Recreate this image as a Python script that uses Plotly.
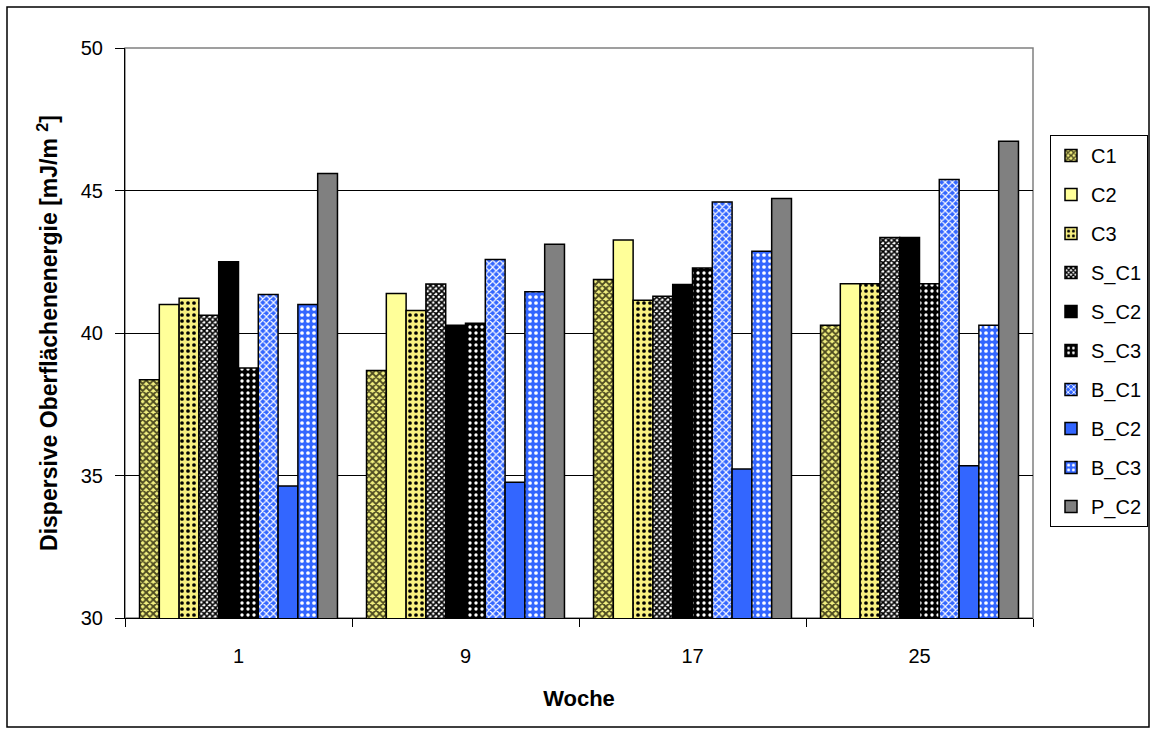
import plotly.graph_objects as go

weeks = ["1", "9", "17", "25"]
series_names = ["C1", "C2", "C3", "S_C1", "S_C2", "S_C3", "B_C1", "B_C2", "B_C3", "P_C2"]

C1 = [38.36, 38.68, 41.88, 40.27]
C2 = [41.00, 41.39, 43.26, 41.73]
C3 = [41.22, 40.79, 41.15, 41.73]
S_C1 = [40.62, 41.72, 41.29, 43.35]
S_C2 = [42.50, 40.27, 41.70, 43.35]
S_C3 = [38.77, 40.34, 42.28, 41.73]
B_C1 = [41.35, 42.58, 44.60, 45.39]
B_C2 = [34.63, 34.76, 35.23, 35.34]
B_C3 = [41.00, 41.45, 42.87, 40.27]
P_C2 = [45.60, 43.11, 44.72, 46.73]

values = [C1, C2, C3, S_C1, S_C2, S_C3, B_C1, B_C2, B_C3, P_C2]

# styling: (bgcolor, fgcolor, pattern shape, size, solidity)
styles = [
    ("#F2F080", "#4D4A20", "x", 5, 0.6),
    ("#FFFF99", None, "", 0, 0),
    ("#F8F080", "#000000", ".", 6, 0.3),
    ("#FFFFFF", "#000000", "x", 4, 0.65),
    ("#000000", None, "", 0, 0),
    ("#000000", "#FFFFFF", ".", 6, 0.25),
    ("#3366FF", "#FFFFFF", "x", 5, 0.4),
    ("#3366FF", None, "", 0, 0),
    ("#3366FF", "#FFFFFF", ".", 6, 0.3),
    ("#808080", None, "", 0, 0),
]

FONT = "Liberation Sans, Arial, sans-serif"

fig = go.Figure()
for name, vals, (bg, fg, shp, sz, sol) in zip(series_names, values, styles):
    marker = dict(color=bg, line=dict(color="#000000", width=1.5))
    if shp:
        marker["pattern"] = dict(shape=shp, bgcolor=bg, fgcolor=fg, size=sz,
                                 solidity=sol, fillmode="replace")
    fig.add_trace(go.Bar(x=weeks, y=vals, name=name, marker=marker,
                         legendgroup=name))

L, T = 125, 48
W, H = 1152, 733
PW, PH = 1033 - 125, 618 - 48

def px_x(p):
    return (p - L) / PW

def px_y(p):
    return (T + PH - p) / PH

fig.update_layout(
    width=W, height=H, autosize=False,
    margin=dict(l=L, r=W - 1033, t=T, b=H - 618, autoexpand=False),
    paper_bgcolor="white", plot_bgcolor="white",
    barmode="group", bargap=0.128, bargroupgap=0,
    font=dict(family=FONT, size=20, color="#000000"),
    showlegend=True,
    legend=dict(
        x=px_x(1050), y=px_y(135), xanchor="left", yanchor="top",
        bordercolor="#000000", borderwidth=1, bgcolor="white",
        font=dict(family=FONT, size=20, color="#000000"),
        traceorder="grouped", tracegroupgap=10,
        itemwidth=30,
    ),
    xaxis=dict(
        type="category",
        showline=True, linecolor="#000000", linewidth=1,
        ticks="outside", tickson="boundaries", ticklen=8, tickcolor="#000000",
        ticklabelstandoff=20,
        showgrid=False,
        tickfont=dict(family=FONT, size=20, color="#000000"),
        title=dict(text="<b>Woche</b>", font=dict(family=FONT, size=22, color="#000000"),
                   standoff=24),
    ),
    yaxis=dict(
        range=[30, 50], dtick=5, tick0=30,
        showline=True, linecolor="#000000", linewidth=1,
        ticks="outside", ticklen=9, tickcolor="#000000",
        ticklabelstandoff=8,
        showgrid=True, gridcolor="#000000", gridwidth=1,
        zeroline=False,
        tickfont=dict(family=FONT, size=20, color="#000000"),
        title=dict(text="<b>Dispersive Oberflächenenergie [mJ/m <sup>2</sup>]</b>",
                   font=dict(family=FONT, size=23, color="#000000"),
                   standoff=16),
    ),
    shapes=[
        dict(type="rect", xref="paper", yref="paper", x0=0, x1=1, y0=0, y1=1,
             line=dict(color="#808080", width=1.5), layer="below"),
        dict(type="rect", xref="paper", yref="paper",
             x0=px_x(7), x1=px_x(1149), y0=px_y(727), y1=px_y(7),
             line=dict(color="#000000", width=1.5), layer="below"),
    ],
)

fig.write_html(
    "out.html",
    config={"responsive": False, "displayModeBar": False},
    post_script="document.body.style.margin='0px';document.body.style.overflow='hidden';",
)
